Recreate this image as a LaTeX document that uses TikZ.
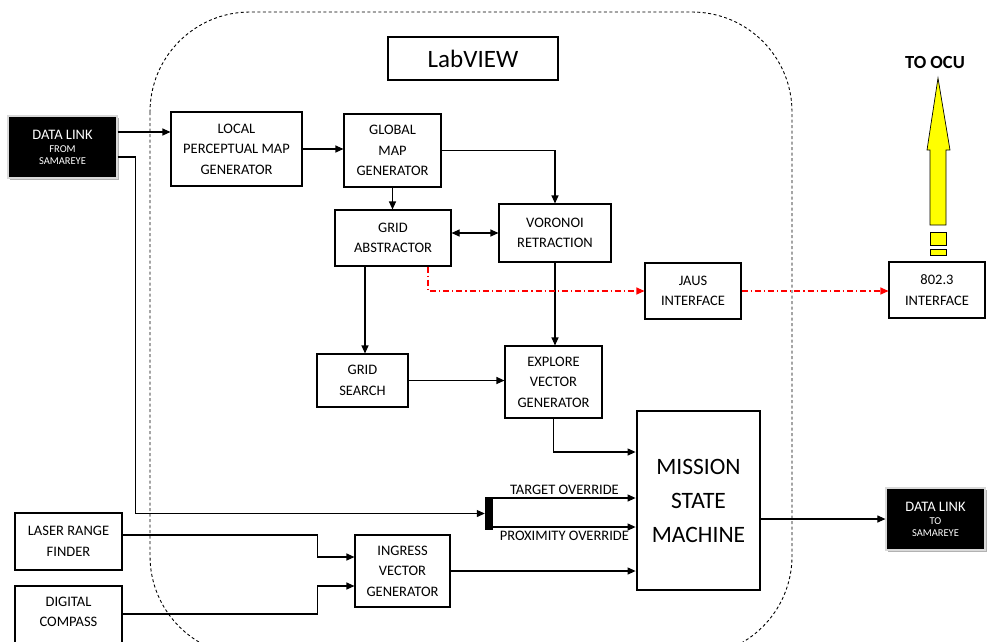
\documentclass[tikz,border=0pt]{standalone}
\usepackage{fontspec}
\setmainfont{Carlito}
\usetikzlibrary{arrows.meta,shadows}
\definecolor{LinkRed}{HTML}{FF0000}
\definecolor{OcuYellow}{HTML}{FFFF00}

\begin{document}
\begin{tikzpicture}[x=1pt,y=-1pt,line join=miter,>={Triangle[length=8pt,width=7pt]},
  blk/.style={draw,line width=1.1pt,align=center,inner sep=0pt,font=\fontsize{14.5}{20.5}\selectfont},
  link/.style={fill=black,draw=gray!30,line width=1.2pt,align=center,inner sep=0pt,text=white,
    drop shadow={shadow xshift=2pt,shadow yshift=-2pt,fill=gray!60,opacity=1}},
  wire/.style={line width=1.1pt,->},
  jaus/.style={line width=1.1pt,->,LinkRed,dash pattern=on 6pt off 3pt on 1.2pt off 3pt}]
  \clip (0,0) rectangle (987,641);
  \fill[white] (0,0) rectangle (987,641);
  \draw[dash pattern=on 3pt off 2.5pt,line width=0.9pt,rounded corners=100pt] (150,12) rectangle (792,656);
  \node[blk,minimum width=170,minimum height=43,font=\fontsize{25}{30}\selectfont] (labview) at (473,58.5) {LabVIEW};
  \node[link,minimum width=109,minimum height=62] (dlin) at (62.5,147)
    {{\fontsize{14.5}{16}\selectfont DATA LINK}\\[1pt]{\fontsize{10.5}{13}\selectfont FROM}\\{\fontsize{10.5}{13}\selectfont SAMAREYE}};
  \node[blk,minimum width=131,minimum height=74] (lpmg) at (236.5,149) {LOCAL\\PERCEPTUAL MAP\\GENERATOR};
  \node[blk,minimum width=97,minimum height=73] (gmg) at (392.5,150.5) {GLOBAL\\MAP\\GENERATOR};
  \node[blk,minimum width=116,minimum height=56] (gabs) at (393,238) {GRID\\ABSTRACTOR};
  \node[blk,minimum width=112,minimum height=58] (vor) at (555,233) {VORONOI\\RETRACTION};
  \node[blk,minimum width=96,minimum height=56] (jausif) at (693,291) {JAUS\\INTERFACE};
  \node[blk,minimum width=96,minimum height=56] (ieee) at (937,290) {802.3\\INTERFACE};
  \node[blk,minimum width=91,minimum height=53] (gsrch) at (362.5,380.5) {GRID\\SEARCH};
  \node[blk,minimum width=97,minimum height=72] (evg) at (553.5,382) {EXPLORE\\VECTOR\\GENERATOR};
  \node[blk,minimum width=123,minimum height=179,line width=2.8pt,font=\fontsize{23.5}{34}\selectfont] (msm) at (698.5,500.5) {MISSION\\STATE\\MACHINE};
  \node[link,minimum width=99,minimum height=62] (dlout) at (935.5,519)
    {{\fontsize{14.5}{16}\selectfont DATA LINK}\\[1pt]{\fontsize{10.5}{13}\selectfont TO}\\{\fontsize{10.5}{13}\selectfont SAMAREYE}};
  \node[blk,minimum width=107,minimum height=57] (lrf) at (68.5,541.5) {LASER RANGE\\FINDER};
  \node[blk,minimum width=107,minimum height=64,text depth=12pt] (dcmp) at (68.5,618) {DIGITAL\\COMPASS};
  \node[blk,minimum width=95,minimum height=72] (ivg) at (402.5,571) {INGRESS\\VECTOR\\GENERATOR};
  \node[fill=black,minimum width=8,minimum height=33,inner sep=0pt] (bar) at (489,513.5) {};
  \coordinate (d1) at ([yshift=15pt]dlin.east);\coordinate (d2) at ([yshift=-10pt]dlin.east);
  \coordinate (m1) at ([yshift=48.5pt]msm.west);\coordinate (b1) at ([yshift=15.5pt]bar.east);\coordinate (b2) at ([yshift=-13.5pt]bar.east);
  \coordinate (l1) at ([yshift=6.5pt]lrf.east);\coordinate (c1) at ([yshift=4pt]dcmp.east);
  \draw[wire] (d1) -- (d1 -| lpmg.west);
  \draw[wire] (d2) -- ++(18,0) |- (bar.west);
  \draw[wire] (lpmg.east) -- (lpmg.east -| gmg.west);
  \draw[wire] (gmg.east) -| (vor.north);
  \draw[wire] (gmg.south) -- (gmg.south |- gabs.north);
  \draw[wire,<->] (gabs.east |- vor.west) -- (vor.west);
  \draw[wire] ([xshift=-28pt]gabs.south) -- ([xshift=-28pt]gabs.south |- gsrch.north);
  \draw[wire] (vor.south) -- (vor.south |- evg.north);
  \draw[wire] (gsrch.east) -- (gsrch.east -| evg.west);
  \draw[wire] (evg.south) |- (m1);
  \draw[wire] (b1) -- node[above,font=\fontsize{14.5}{16}\selectfont] {TARGET OVERRIDE} (b1 -| msm.west);
  \draw[wire] (b2) -- node[below,font=\fontsize{14.5}{16}\selectfont] {PROXIMITY OVERRIDE} (b2 -| msm.west);
  \draw[wire] (ivg.east) -- (ivg.east -| msm.west);
  \draw[wire] (dlout.west -| msm.east) -- (dlout.west);
  \draw[wire] (l1) -- ++(195,0) |- ([yshift=14pt]ivg.west);
  \draw[wire] (c1) -- ++(195,0) |- ([yshift=-15pt]ivg.west);
  \draw[jaus] ([xshift=35pt]gabs.south) |- (jausif.west);
  \draw[jaus] (jausif.east) -- (jausif.east -| ieee.west);
  \draw[fill=OcuYellow,line width=0.7pt] (930,225) -- (930,150) -- (927,150) -- (938,78) -- (950,150) -- (946,150) -- (946,225) -- cycle;
  \draw[fill=OcuYellow,line width=0.7pt] (930,232) rectangle (946,245) (930,249) rectangle (946,255);
  \node[font=\bfseries\fontsize{18.5}{20}\selectfont] (ocu) at (935,62) {TO OCU};
\end{tikzpicture}
\end{document}
